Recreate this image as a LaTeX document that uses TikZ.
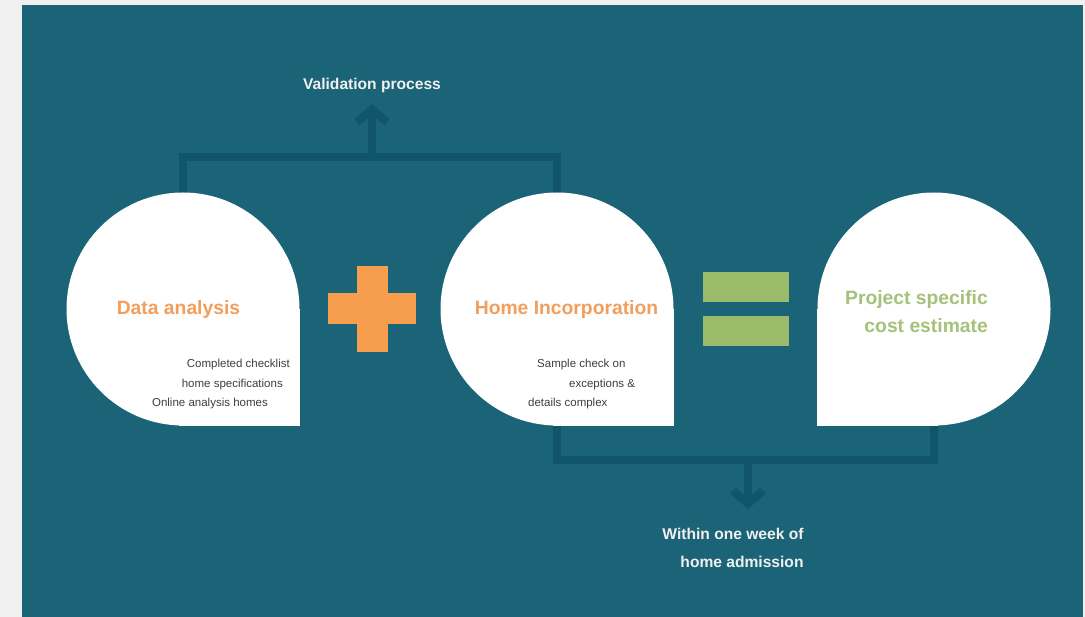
\documentclass[tikz,border=0pt]{standalone}
\usepackage{fontspec}
\setmainfont{Liberation Sans}
\usetikzlibrary{positioning, calc, arrows.meta, shapes}

\definecolor{pagegray}{RGB}{240,240,240}
\definecolor{bgteal}{RGB}{27,99,119}
\definecolor{linkteal}{RGB}{17,85,107}
\definecolor{plusorange}{RGB}{247,157,78}
\definecolor{titleorange}{RGB}{242,158,92}
\definecolor{eqgreen}{RGB}{155,187,107}
\definecolor{titlegreen}{RGB}{165,193,122}
\definecolor{smallgray}{RGB}{62,62,62}

\tikzset{
	blob/.style={circle, fill=white, minimum size=233pt, inner sep=0pt},
	link/.style={draw=linkteal, line width=8pt},
	linkarrow/.style={link, -{Straight Barb[length=13pt, width=30pt]}},
	bigtitle/.style={font=\fontsize{19.3}{28}\selectfont\bfseries, inner sep=0pt},
	smalltext/.style={font=\fontsize{11.5}{14}\selectfont, text=smallgray, inner sep=0pt},
	whitelabel/.style={font=\fontsize{15.6}{28}\selectfont\bfseries, text=white!94!black, inner sep=0pt}
}

\begin{document}
\begin{tikzpicture}[x=1pt, y=-1pt]
		\useasboundingbox (0,0) rectangle (1085,617);
		\fill[pagegray] (0,0) rectangle (1085,617);
		\fill[bgteal] (22,5) rectangle (1083,617);
		
		%The three blobs
		\node (data) at (183,309) [blob]{};
		\fill[white] ([xshift=-4pt]data.center) rectangle (data.east |- data.south);
		\node (home) at (557,309) [blob]{};
		\fill[white] ([xshift=-4pt]home.center) rectangle (home.east |- home.south);
		\node (cost) at (934,309) [blob]{};
		\fill[white] ([xshift=4pt]cost.center) rectangle (cost.west |- cost.south);
		
		%Plus and equals signs
		\node (plush) at (372,309) [fill=plusorange, minimum width=88pt, minimum height=31pt, inner sep=0pt]{};
		\node (plusv) at (372,309) [fill=plusorange, minimum width=31pt, minimum height=86pt, inner sep=0pt]{};
		\node (equp) at (746,287) [fill=eqgreen, minimum width=86pt, minimum height=30pt, inner sep=0pt]{};
		\node (eqdown) at (746,331) [fill=eqgreen, minimum width=86pt, minimum height=30pt, inner sep=0pt]{};
		
		%Writing inside the blobs
		\node (datatitle) at (178.5,310) [bigtitle, text=titleorange]{Data analysis};
		\node (dataline1) at (290,365) [smalltext, anchor=east]{Completed checklist};
		\node (dataline2) at (283,385) [smalltext, anchor=east]{home specifications};
		\node (dataline3) at (268,404) [smalltext, anchor=east]{Online analysis homes};
		
		\node (hometitle) at (566.5,310) [bigtitle, text=titleorange]{Home Incorporation};
		\node (homeline1) at (537,365) [smalltext, anchor=west]{Sample check on};
		\node (homeline2) at (569,385) [smalltext, anchor=west]{exceptions \&};
		\node (homeline3) at (528,404) [smalltext, anchor=west]{details complex};
		
		\node (costtitle) at (916.5,312) [bigtitle, text=titlegreen, align=right]{Project specific\\cost estimate};
		
		%Links among blocks
		\coordinate (vjoin) at (372,157);
		\coordinate (vtip) at (372,104);
		\coordinate (wjoin) at (748,460);
		\coordinate (wtip) at (748,509);
		\draw[link] (data.north) |- (vjoin) -| (home.north);
		\draw[linkarrow] (vjoin) -- (vtip);
		\draw[link] (home.south) |- (wjoin) -| (cost.south);
		\draw[linkarrow] (wjoin) -- (wtip);
		
		\node (valid) at (372,85) [whitelabel]{Validation process};
		\node (week) at (733,548) [whitelabel, align=right]{Within one week of\\home admission};
		
\end{tikzpicture}
\end{document}
